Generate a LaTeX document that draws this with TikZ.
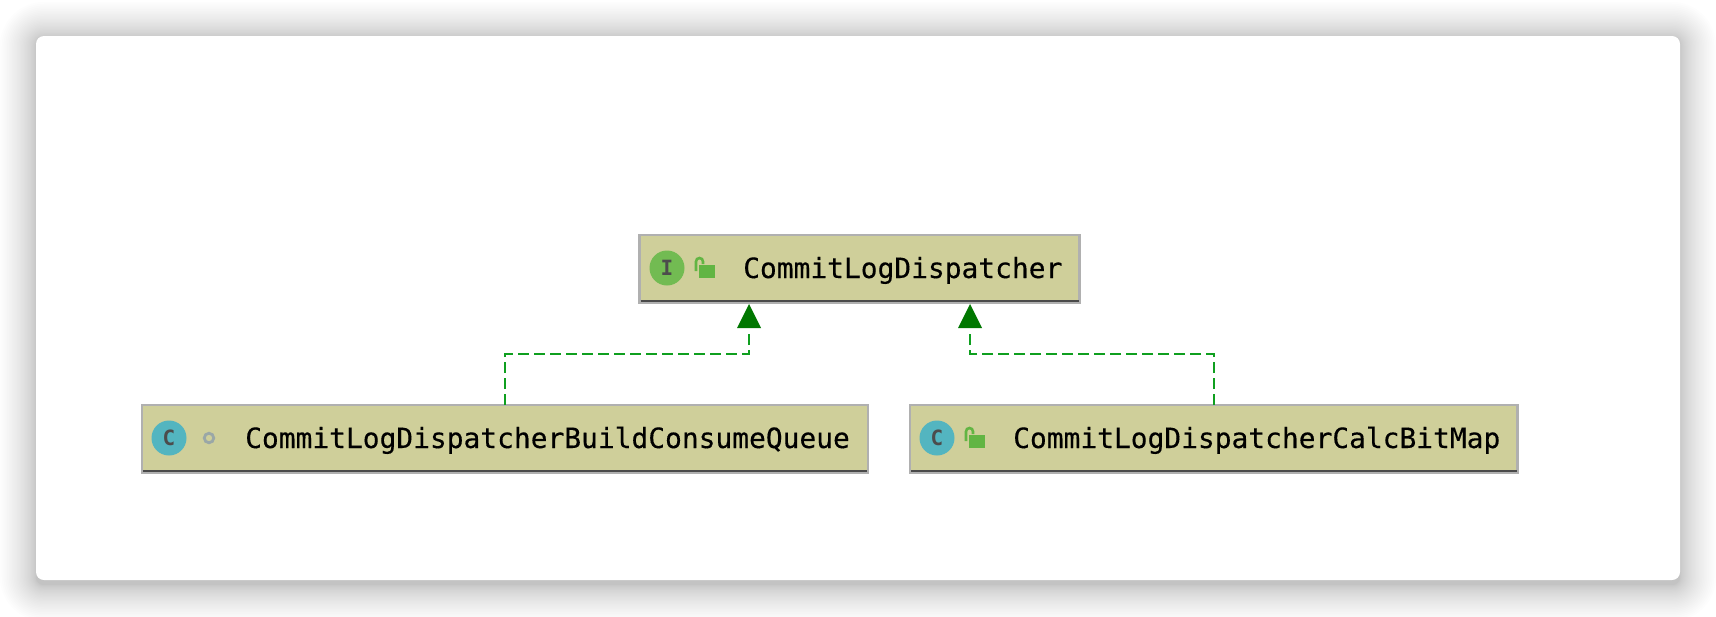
\documentclass[tikz,border=0pt]{standalone}
\usepackage{fontspec}
\setmonofont{DejaVu Sans Mono}
\newfontfamily\boxfont[FakeBold=0.3]{DejaVu Sans Mono}
\usetikzlibrary{arrows.meta}
\definecolor{boxfill}{HTML}{CFCF9A}
\definecolor{boxline}{HTML}{B0B0B0}
\definecolor{boxdark}{HTML}{4A4A4A}
\definecolor{linkgreen}{HTML}{0F9F1F}
\definecolor{tipgreen}{HTML}{007700}
\definecolor{ifacegreen}{HTML}{72BB52}
\definecolor{classteal}{HTML}{53B5C0}
\definecolor{lockgreen}{HTML}{62B543}
\definecolor{pkgring}{HTML}{9AA7A7}
\tikzset{
  x=1pt,y=-1pt,
  umlbox/.style={draw=boxline,line width=2.4pt,fill=boxfill,inner sep=0pt,outer sep=0pt,anchor=north west},
  badge/.style={circle,inner sep=0pt,minimum size=35pt},
  boxtext/.style={inner sep=0pt,anchor=base west,font=\boxfont\fontsize{27.9}{30}\selectfont,text=black},
  badgetext/.style={inner sep=0pt,font=\ttfamily\bfseries\fontsize{21}{23}\selectfont,text=black!70},
  impl/.style={draw=linkgreen,line width=2.6pt,dash pattern=on 11pt off 5pt},
  tip/.style={fill=tipgreen,draw=none},
  pics/openlock/.style={code={
    \fill[lockgreen] (0,0) rectangle (16,13);
    \draw[lockgreen,line width=2.6pt] (-3,6) -- (-3,-3.5) arc[start angle=180,end angle=360,radius=3.5] -- (4,-1);
  }}
}
\begin{document}
\begin{tikzpicture}
\useasboundingbox (0,0) rectangle (1716,616);
\fill[white] (0,0) rectangle (1716,616);
% soft shadow: layers packed closer towards the card
\foreach \i in {0,1,...,29}{
  \pgfmathsetmacro{\e}{38*(\i/30)^1.5}
  \fill[black,opacity=0.008,rounded corners={8pt+\e*1pt}]
    (36-\e,38-\e) rectangle (1680+\e,585+\e);
}
\fill[white,rounded corners=8pt] (36,36) rectangle (1680,580);
% boxes
\node[umlbox,minimum width=440pt,minimum height=68pt] (iface) at (639.5,235) {};
\node[umlbox,minimum width=726pt,minimum height=67.5pt] (build) at (142,405) {};
\node[umlbox,minimum width=607.5pt,minimum height=67.5pt] (calc) at (910,405) {};
\draw[boxdark,line width=2pt] ([xshift=1pt,yshift=2pt]iface.south west) -- ([xshift=-1pt,yshift=2pt]iface.south east);
\draw[boxdark,line width=2pt] ([xshift=1pt,yshift=2pt]build.south west) -- ([xshift=-1pt,yshift=2pt]build.south east);
\draw[boxdark,line width=2pt] ([xshift=1pt,yshift=2pt]calc.south west) -- ([xshift=-1pt,yshift=2pt]calc.south east);
% badges
\node[badge,fill=ifacegreen] (ib) at (667,268) {};
\node[badgetext] (il) at (ib) {I};
\node[badge,fill=classteal] (bb) at (169,438) {};
\node[badgetext] (bl) at (bb) {C};
\node[badge,fill=classteal] (cb) at (937,438) {};
\node[badgetext] (cl) at (cb) {C};
\pic at (699,265) {openlock};
\pic at (969,435) {openlock};
\node[circle,draw=pkgring,line width=2.8pt,minimum size=9.5pt,inner sep=0pt] (pk) at (209,438) {};
% labels
\node[boxtext] (it) at (743,278) {CommitLogDispatcher};
\node[boxtext] (bt) at (245,448) {CommitLogDispatcherBuildConsumeQueue};
\node[boxtext] (ct) at (1013,448) {CommitLogDispatcherCalcBitMap};
% connectors
\coordinate (t1) at (749,330);
\coordinate (t2) at (970,330);
\coordinate (m1) at (749,354);
\coordinate (m2) at (970,354);
\coordinate (s1) at (505,354);
\coordinate (s2) at (1214,354);
\draw[impl] (build.north -| s1) -- (s1) -- (m1) -- (t1);
\draw[impl] (calc.north -| s2) -- (s2) -- (m2) -- (t2);
\fill[tip] (749,304) -- (761,328) -- (737,328) -- cycle;
\fill[tip] (970,304) -- (982,328) -- (958,328) -- cycle;
\end{tikzpicture}
\end{document}
